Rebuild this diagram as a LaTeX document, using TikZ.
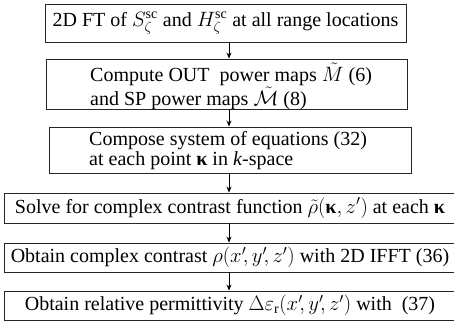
\documentclass[tikz,border=0pt]{standalone}
\usepackage{fontspec}
\setmainfont{Liberation Serif}
\usetikzlibrary{arrows.meta}

\begin{document}
\begin{tikzpicture}[x=1pt,y=-1pt,>={Stealth[length=6pt,width=5pt]},
    stepbox/.style={draw=black!85,line width=0.9pt,inner sep=0pt,
        font=\fontsize{20pt}{20pt}\selectfont},
    steptext/.style={anchor=west,inner sep=0pt,align=left,
        font=\fontsize{20pt}{20pt}\selectfont}]
    \useasboundingbox (0,0) rectangle (454,327);
    \clip (0,0) rectangle (454,327);

    % Processing steps
    \node[stepbox,minimum width=361pt,minimum height=38pt] (ft) at (225.5,23)
        {2D FT of $S_{\zeta}^{\mathrm{sc}}$ and $H_{\zeta}^{\mathrm{sc}}$ at all range locations};
    \node[stepbox,minimum width=361pt,minimum height=50pt] (pmaps) at (226.5,84) {};
    \node[steptext] (pmapstext) at (90,86)
        {Compute OUT\ \ power maps $\tilde{M}$ (6)\\and SP power maps $\tilde{\mathcal{M}}$ (8)};
    \node[stepbox,minimum width=362pt,minimum height=46pt] (eqs) at (230,150) {};
    \node[steptext] (eqstext) at (89,151)
        {Compose system of equations (32)\\at each point \textbf{κ} in \textit{k}-space};
    \node[stepbox,minimum width=452pt,minimum height=30pt] (solve) at (230,208)
        {Solve for complex contrast function $\tilde{\rho}(\mbox{\bfseries κ},z')$ at each \textbf{κ}};
    \node[stepbox,minimum width=452pt,minimum height=29pt] (ifft) at (230,257.5)
        {Obtain complex contrast $\rho(x'\!,y'\!,z')$ with 2D IFFT (36)};
    \node[stepbox,minimum width=452pt,minimum height=29pt] (perm) at (230,305.5)
        {Obtain relative permittivity $\Delta\varepsilon_{\mathrm{r}}(x'\!,y'\!,z')$ with\ \ (37)};

    % Arrows between steps
    \coordinate (ax) at (229,0);
    \foreach \a/\b in {ft/pmaps,pmaps/eqs,eqs/solve,solve/ifft,ifft/perm}
        \draw[->,line width=0.8pt] (\a.south -| ax) -- (\b.north -| ax);
\end{tikzpicture}
\end{document}
